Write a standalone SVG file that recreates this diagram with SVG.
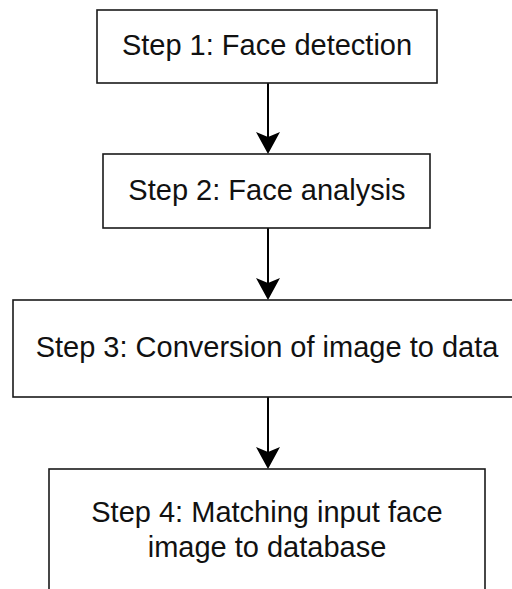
<svg xmlns="http://www.w3.org/2000/svg" width="512" height="589" viewBox="0 0 512 589">
  <style>
    .box { fill: #ffffff; stroke: #1a1a1a; stroke-width: 1.6; }
    .label { font-family: "Liberation Sans", Arial, sans-serif; font-size: 29px; fill: #111111; text-anchor: middle; }
    .edge { stroke: #000000; stroke-width: 2; fill: none; }
    .head { fill: #000000; stroke: none; }
  </style>
  <rect x="0" y="0" width="512" height="589" fill="#ffffff"/>

  <g id="connectors">
    <line class="edge" x1="268" y1="83" x2="268" y2="140"/>
    <path class="head" d="M268,154 L256,132 L268,137 L280,132 Z"/>
    <line class="edge" x1="268" y1="228" x2="268" y2="286"/>
    <path class="head" d="M268,300 L256,278 L268,283 L280,278 Z"/>
    <line class="edge" x1="268" y1="397" x2="268" y2="455"/>
    <path class="head" d="M268,469 L256,447 L268,452 L280,447 Z"/>
  </g>

  <g id="step1">
    <rect class="box" x="97" y="10" width="340" height="73"/>
    <text class="label" x="267" y="55">Step 1: Face detection</text>
  </g>

  <g id="step2">
    <rect class="box" x="103" y="154" width="327" height="74"/>
    <text class="label" x="267" y="200">Step 2: Face analysis</text>
  </g>

  <g id="step3">
    <rect class="box" x="13" y="300" width="515" height="97"/>
    <text class="label" x="267" y="357">Step 3: Conversion of image to data</text>
  </g>

  <g id="step4">
    <rect class="box" x="49" y="469" width="436" height="130"/>
    <text class="label" x="267" y="522">Step 4: Matching input face</text>
    <text class="label" x="267" y="557">image to database</text>
  </g>
</svg>
